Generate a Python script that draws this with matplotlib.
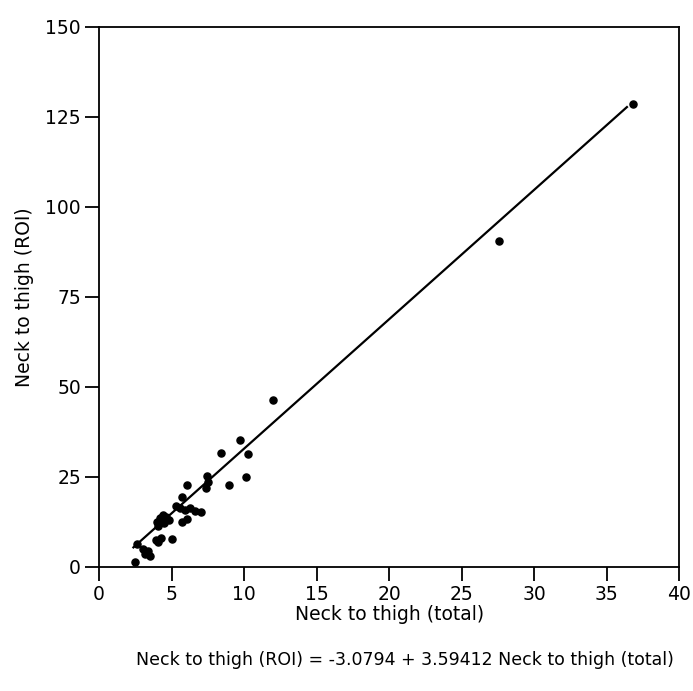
import matplotlib
matplotlib.use("Agg")
import matplotlib.pyplot as plt
import numpy as np

# Data
total = [2.5, 2.6, 3.0, 3.2, 3.4, 3.5, 3.9, 4.1, 4.3, 4.0, 4.2, 4.4, 4.6, 4.8, 4.5,
         4.1, 5.05, 5.3, 5.6, 5.9, 6.3, 6.6, 7.0, 5.7, 6.05, 5.7, 6.05,
         7.4, 7.5, 7.45, 8.4, 8.95, 9.7, 10.1, 10.25, 12.0, 27.6, 36.8]
roi = [1.5, 6.5, 5.0, 3.5, 4.5, 3.0, 7.5, 7.0, 8.0, 12.5, 13.5, 14.5, 13.8, 13.0, 12.2,
       11.5, 7.8, 16.8, 16.3, 15.8, 16.5, 15.5, 15.3, 12.5, 13.2, 19.5, 22.7,
       21.8, 23.5, 25.2, 31.6, 22.7, 35.3, 24.9, 31.4, 46.5, 90.5, 128.5]

intercept = -3.0794
slope = 3.59412
fit_x = [2.37, 36.4]

xticks = [0, 5, 10, 15, 20, 25, 30, 35, 40]
yticks = [0, 25, 50, 75, 100, 125, 150]

fig = plt.figure(figsize=(6.93, 6.91), dpi=100)
ax = fig.add_axes([0.1429, 0.1795, 0.8371, 0.7815])

ax.scatter(total, roi, s=26, color="black", zorder=3)
fx = np.array(fit_x)
ax.plot(fx, intercept + slope * fx, color="black", linewidth=1.6)

ax.set_xlim(0, 40)
ax.set_ylim(0, 150)
ax.set_xticks(xticks)
ax.set_yticks(yticks)
ax.tick_params(direction="out", length=10, width=1.3, labelsize=13.5, pad=3)
for s in ax.spines.values():
    s.set_linewidth(1.3)

ax.set_xlabel("Neck to thigh (total)", fontsize=13.5, labelpad=1)
ax.set_ylabel("Neck to thigh (ROI)", fontsize=13.5, labelpad=8)

fig.text(0.584, 0.045, "Neck to thigh (ROI) = -3.0794 + 3.59412 Neck to thigh (total)",
         ha="center", va="center", fontsize=12.5)

fig.savefig("out.png", dpi=100)
